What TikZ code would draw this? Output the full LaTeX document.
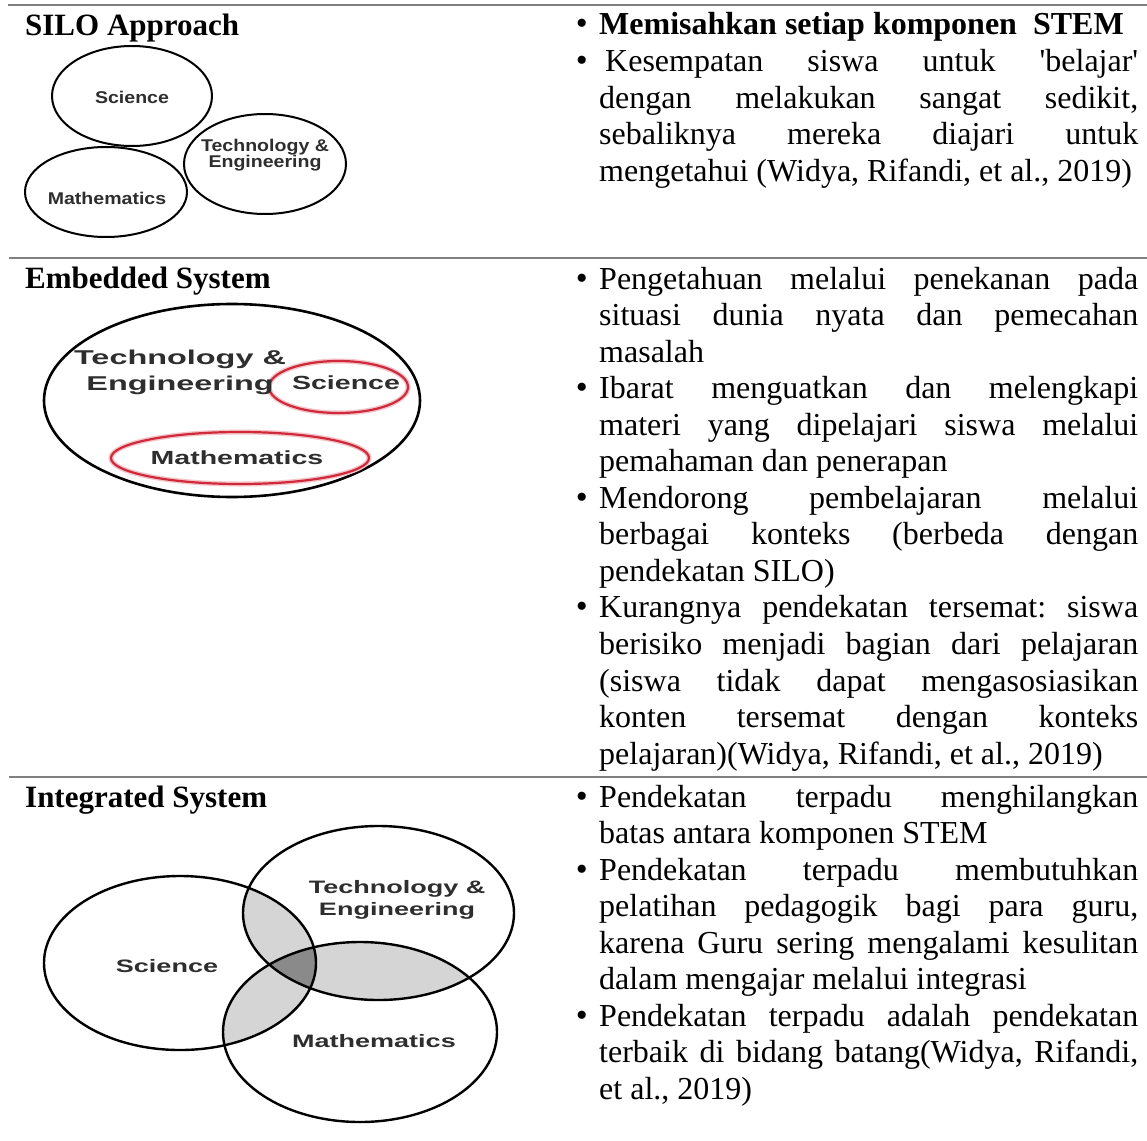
\documentclass[tikz,border=0pt]{standalone}
\usepackage{fontspec}
\setmainfont{Liberation Serif}
\setsansfont{Liberation Sans}
\tolerance=10000
\hbadness=10000
\hyphenpenalty=10000
\frenchspacing
\definecolor{rulegray}{HTML}{808080}
\definecolor{ink}{HTML}{2E2E2E}
\definecolor{ring}{HTML}{CF2A3B}
\definecolor{halo}{HTML}{F4C4C8}
\definecolor{overlap}{HTML}{D5D5D5}
\definecolor{core}{HTML}{8A8A8A}

\begin{document}
\begin{tikzpicture}[x=1pt, y=-1pt,
    heading/.style={anchor=base west, inner sep=0pt, font=\bfseries\fontsize{31}{36}\selectfont},
    item/.style={anchor=base west, inner sep=0pt, text width=539pt, align=justify, font=\fontsize{32}{36.55}\selectfont},
    dot/.style={anchor=base east, inner sep=0pt, font=\fontsize{34}{36.55}\selectfont},
    sep/.style={draw=rulegray, line width=2.6pt},
    outline/.style={draw=black, line width=2pt},
    redring/.style={draw=ring, line width=2.2pt},
    silo/.style={inner sep=0pt, text=ink, xscale=1.15, align=center, font=\sffamily\bfseries\fontsize{17}{16}\selectfont},
    embed/.style={inner sep=0pt, text=ink, xscale=1.5, align=center, font=\sffamily\bfseries\fontsize{19}{26}\selectfont},
    embedbig/.style={inner sep=0pt, text=ink, xscale=1.62, align=center, font=\sffamily\bfseries\fontsize{20}{26}\selectfont},
    venn/.style={inner sep=0pt, text=ink, xscale=1.5, align=center, font=\sffamily\bfseries\fontsize{18}{22}\selectfont}]
    \fill[white] (0,0) rectangle (1147,1140);
    \useasboundingbox (0,0) rectangle (1147,1140);

    \draw[sep] (8,5) -- (1147,5);
    \draw[sep] (9,258) -- (1147,258);
    \draw[sep] (9,777) -- (1147,777);

    \node[heading] (h-silo) at (25,36) {SILO Approach};
    \node[heading] (h-emb) at (25,288) {Embedded System};
    \node[heading] (h-int) at (25,807) {Integrated System};

    \draw[outline] (132,96) ellipse [x radius=80, y radius=50];
    \draw[outline] (265,164) ellipse [x radius=81, y radius=50];
    \draw[outline] (106,192) ellipse [x radius=81, y radius=45];
    \node[silo] (s-sci) at (132,97) {Science};
    \node[silo] (s-tec) at (265,155) {Technology \&\\Engineering};
    \node[silo] (s-mat) at (107,198) {Mathematics};

    \draw[outline, line width=2.6pt] (232,400.5) ellipse [x radius=188, y radius=96.5];
    \draw[halo, line width=5pt] (338.5,387) ellipse [x radius=69.5, y radius=26];
    \draw[halo, line width=5pt] (240,458) ellipse [x radius=129, y radius=26];
    \draw[redring] (338.5,387) ellipse [x radius=69.5, y radius=26];
    \draw[redring] (240,458) ellipse [x radius=129, y radius=26];
    \node[embedbig] (e-tec) at (180,372) {Technology \&\\Engineering};
    \node[embed] (e-sci) at (346,383) {Science};
    \node[embed] (e-mat) at (237,458) {Mathematics};

    \def\scipath{(180,963) ellipse [x radius=136, y radius=87]}
    \def\tecpath{(378.5,913) ellipse [x radius=135.5, y radius=87]}
    \def\matpath{(360,1032) ellipse [x radius=137, y radius=90]}
    \begin{scope}
        \clip \scipath;
        \fill[overlap] \tecpath;
        \fill[overlap] \matpath;
    \end{scope}
    \begin{scope}
        \clip \tecpath;
        \fill[overlap] \matpath;
    \end{scope}
    \begin{scope}
        \clip \scipath;
        \clip \tecpath;
        \fill[core] \matpath;
    \end{scope}
    \draw[outline, line width=2.4pt] \scipath;
    \draw[outline, line width=2.4pt] \tecpath;
    \draw[outline, line width=2.4pt] \matpath;
    \node[venn] (v-sci) at (167,966) {Science};
    \node[venn] (v-tec) at (397,900) {Technology \&\\Engineering};
    \node[venn] (v-mat) at (374,1041) {Mathematics};

    \node[item, font=\bfseries\fontsize{32}{36.55}\selectfont] (b1) at (599,35) {Memisahkan setiap komponen~ STEM};
    \node[dot] (b1-dot) at ([xshift=-11pt]b1.base west) {\textbullet};
    \node[item] (b2) at (599,71.6) {\hspace*{6pt}Kesempatan siswa untuk \textquotesingle belajar\textquotesingle\linebreak dengan melakukan sangat sedikit,\linebreak sebaliknya mereka diajari untuk\linebreak mengetahui (Widya, Rifandi, et al., 2019)};
    \node[dot] (b2-dot) at ([xshift=-11pt]b2.base west) {\textbullet};

    \node[item] (e1) at (599,289) {Pengetahuan melalui penekanan pada\linebreak situasi dunia nyata dan pemecahan\linebreak masalah};
    \node[dot] (e1-dot) at ([xshift=-11pt]e1.base west) {\textbullet};
    \node[item] (e2) at (599,398.65) {Ibarat menguatkan dan melengkapi\linebreak materi yang dipelajari siswa melalui\linebreak pemahaman dan penerapan};
    \node[dot] (e2-dot) at ([xshift=-11pt]e2.base west) {\textbullet};
    \node[item] (e3) at (599,508.3) {Mendorong pembelajaran melalui\linebreak berbagai konteks (berbeda dengan\linebreak pendekatan SILO)};
    \node[dot] (e3-dot) at ([xshift=-11pt]e3.base west) {\textbullet};
    \node[item] (e4) at (599,617.95) {Kurangnya pendekatan tersemat: siswa\linebreak berisiko menjadi bagian dari pelajaran\linebreak (siswa tidak dapat mengasosiasikan\linebreak konten tersemat dengan konteks\linebreak pelajaran)(Widya, Rifandi, et al., 2019)};
    \node[dot] (e4-dot) at ([xshift=-11pt]e4.base west) {\textbullet};

    \node[item] (i1) at (599,807) {Pendekatan terpadu menghilangkan\linebreak batas antara komponen STEM};
    \node[dot] (i1-dot) at ([xshift=-11pt]i1.base west) {\textbullet};
    \node[item] (i2) at (599,880.1) {Pendekatan terpadu membutuhkan\linebreak pelatihan pedagogik bagi para guru,\linebreak karena Guru sering mengalami kesulitan\linebreak dalam mengajar melalui integrasi};
    \node[dot] (i2-dot) at ([xshift=-11pt]i2.base west) {\textbullet};
    \node[item] (i3) at (599,1026.3) {Pendekatan terpadu adalah pendekatan\linebreak terbaik di bidang batang(Widya, Rifandi,\linebreak et al., 2019)};
    \node[dot] (i3-dot) at ([xshift=-11pt]i3.base west) {\textbullet};
\end{tikzpicture}
\end{document}
